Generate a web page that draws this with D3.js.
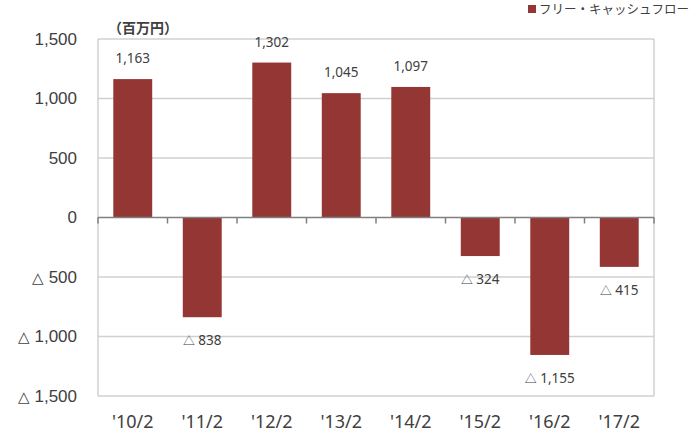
<!DOCTYPE html>
<html>
<head>
<meta charset="utf-8">
<script src="https://cdn.jsdelivr.net/npm/d3@7"></script>
<style>
  body { margin: 0; background: #fff; }
  svg { display: block; font-family: "Noto Sans", "Noto Sans CJK JP", sans-serif; }
</style>
</head>
<body>
<div id="chart"></div>
<script>
const categories = ["'10/2", "'11/2", "'12/2", "'13/2", "'14/2", "'15/2", "'16/2", "'17/2"];
const values = [1163, -838, 1302, 1045, 1097, -324, -1155, -415];
const yTicks = [1500, 1000, 500, 0, -500, -1000, -1500];
const seriesName = 'フリー・キャッシュフロー';
const unitLabel = '（百万円）';

const barColor = '#943634';
const textColor = '#404040';
const outerWidth = 695;
const outerHeight = 437;
const margin = {top: 39, right: 41, bottom: 41, left: 98};
const width = outerWidth - margin.left - margin.right;
const height = outerHeight - margin.top - margin.bottom;

const num = d3.format(',');

// negative numbers shown with a triangle, japanese style
function writeValue(sel, v) {
  sel.text(null);
  if (v < 0) {
    sel.append('tspan').style('font-size', '0.88em').text('△');
    sel.append('tspan').text(' ' + num(-v));
  } else {
    sel.append('tspan').text(num(v));
  }
}

const svg = d3.select('#chart').append('svg')
  .attr('width', outerWidth)
  .attr('height', outerHeight);

const g = svg.append('g')
  .attr('transform', `translate(${margin.left}, ${margin.top})`);

const x = d3.scaleBand()
  .domain(categories)
  .range([0, width])
  .paddingInner(0.44)
  .paddingOuter(0.22);

const y = d3.scaleLinear()
  .domain([-1500, 1500])
  .range([height, 0]);

// gridlines
g.selectAll('.grid')
  .data(yTicks.filter(d => d !== 0))
  .join('line')
  .attr('x1', 0).attr('x2', width)
  .attr('y1', d => y(d)).attr('y2', d => y(d))
  .attr('stroke', '#d0d0d0')
  .attr('stroke-width', 1.5);

// plot border (right side) and left axis line
g.append('line')
  .attr('x1', width).attr('x2', width).attr('y1', 0).attr('y2', height)
  .attr('stroke', '#d0d0d0').attr('stroke-width', 1.5);
g.append('line')
  .attr('x1', 0).attr('x2', 0).attr('y1', 0).attr('y2', height)
  .attr('stroke', '#d0d0d0').attr('stroke-width', 1.5);

// y axis labels
const yAxis = d3.axisLeft(y).tickValues(yTicks).tickSize(0).tickPadding(21);
const gy = g.append('g').call(yAxis);
gy.select('.domain').remove();
gy.selectAll('text')
  .attr('fill', textColor)
  .style('font-size', '17px')
  .each(function(d) { writeValue(d3.select(this), d); });

// bars
g.selectAll('.bar')
  .data(values)
  .join('rect')
  .attr('x', (d, i) => x(categories[i]))
  .attr('width', x.bandwidth())
  .attr('y', d => y(Math.max(0, d)))
  .attr('height', d => Math.abs(y(d) - y(0)))
  .attr('fill', barColor);

// zero line with ticks at category boundaries
g.append('line')
  .attr('x1', 0).attr('x2', width)
  .attr('y1', y(0)).attr('y2', y(0))
  .attr('stroke', '#808080').attr('stroke-width', 1.5);
g.selectAll('.tick-mark')
  .data(d3.range(categories.length + 1))
  .join('line')
  .attr('x1', i => i * width / categories.length)
  .attr('x2', i => i * width / categories.length)
  .attr('y1', y(0)).attr('y2', y(0) + 6)
  .attr('stroke', '#808080').attr('stroke-width', 1.5);

// data labels
g.selectAll('.label')
  .data(values)
  .join('text')
  .attr('x', (d, i) => x(categories[i]) + x.bandwidth() / 2)
  .attr('y', d => d >= 0 ? y(d) - 16 : y(d) + 28)
  .attr('text-anchor', 'middle')
  .attr('fill', textColor)
  .style('font-size', '13.5px')
  .each(function(d) { writeValue(d3.select(this), d); });

// x axis labels
g.selectAll('.xlabel')
  .data(categories)
  .join('text')
  .attr('x', d => x(d) + x.bandwidth() / 2)
  .attr('y', height + 32)
  .attr('text-anchor', 'middle')
  .attr('fill', textColor)
  .style('font-size', '18px')
  .text(d => d);

// unit label
svg.append('text')
  .attr('x', 108)
  .attr('y', 33)
  .attr('fill', textColor)
  .style('font-size', '14px')
  .style('font-weight', 'bold')
  .style('font-family', '"Noto Sans CJK JP", sans-serif')
  .text(unitLabel);

// legend
svg.append('rect')
  .attr('x', 528).attr('y', 5)
  .attr('width', 8).attr('height', 8)
  .attr('fill', barColor);
svg.append('text')
  .attr('x', 539)
  .attr('y', 14)
  .attr('fill', textColor)
  .style('font-size', '12.5px')
  .style('font-family', '"Noto Sans CJK JP", sans-serif')
  .text(seriesName);
</script>
</body>
</html>
